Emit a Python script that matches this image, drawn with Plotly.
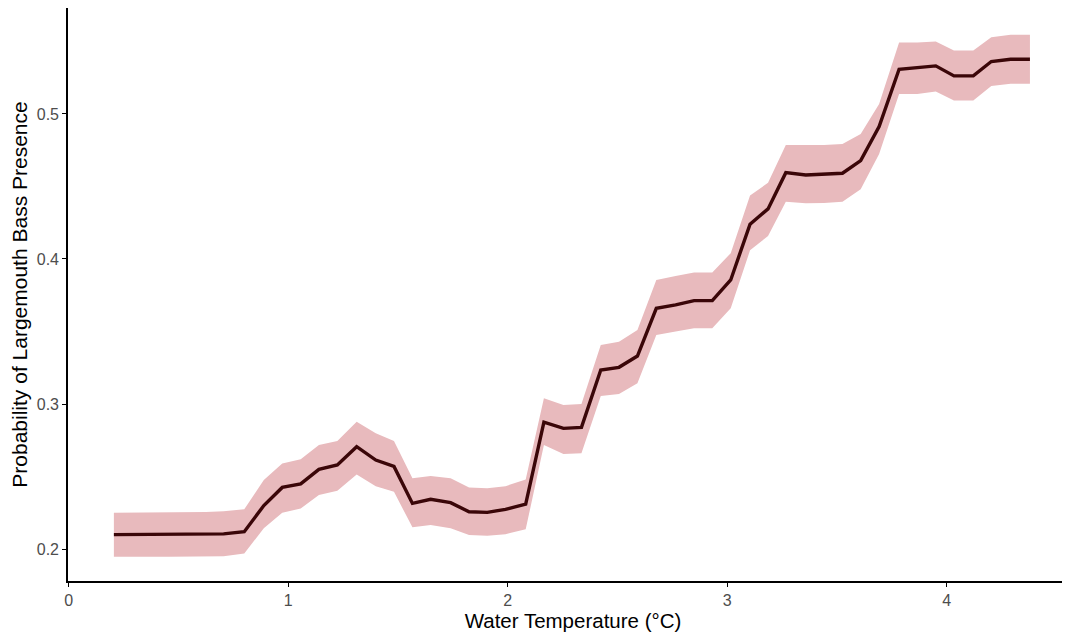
import plotly.graph_objects as go

temp = [0.206, 0.290, 0.374, 0.457, 0.541, 0.625, 0.706, 0.800, 0.889, 0.973,
        1.057, 1.140, 1.224, 1.312, 1.399, 1.482, 1.566, 1.649, 1.740, 1.824,
        1.907, 1.990, 2.082, 2.165, 2.254, 2.336, 2.424, 2.507, 2.591, 2.677,
        2.765, 2.849, 2.932, 3.016, 3.104, 3.186, 3.267, 3.358, 3.441, 3.525,
        3.608, 3.692, 3.783, 3.866, 3.950, 4.033, 4.121, 4.203, 4.291, 4.379]

prob = [0.210, 0.210, 0.210, 0.210, 0.210, 0.210, 0.2105, 0.212, 0.230, 0.2425,
        0.245, 0.255, 0.258, 0.2706, 0.2614, 0.257, 0.2315, 0.2343, 0.232, 0.2257,
        0.2253, 0.2274, 0.231, 0.2875, 0.2832, 0.2839, 0.3234, 0.3253, 0.3331, 0.366,
        0.3683, 0.3713, 0.3713, 0.3855, 0.4240, 0.4345, 0.4595, 0.4579, 0.4586, 0.4591,
        0.4678, 0.4912, 0.5308, 0.5322, 0.5331, 0.5262, 0.5262, 0.5361, 0.5377, 0.5377]

upper = [0.225, 0.225, 0.225, 0.225, 0.225, 0.2255, 0.226, 0.2274, 0.2476, 0.259,
         0.2619, 0.2717, 0.2745, 0.2878, 0.2798, 0.2745, 0.2488, 0.2503, 0.2488, 0.2425,
         0.2419, 0.2434, 0.248, 0.304, 0.2993, 0.300, 0.3407, 0.343, 0.351, 0.3855,
         0.3883, 0.3906, 0.3906, 0.404, 0.4438, 0.4525, 0.4786, 0.4786, 0.4786, 0.4793,
         0.4862, 0.5069, 0.5492, 0.5492, 0.5499, 0.5437, 0.5437, 0.5529, 0.5545, 0.5545]

lower = [0.1947, 0.1947, 0.1947, 0.1947, 0.1947, 0.1948, 0.1950, 0.197, 0.2143, 0.225,
         0.228, 0.2372, 0.2402, 0.2515, 0.2434, 0.2395, 0.215, 0.2166, 0.2143, 0.2097,
         0.2092, 0.2103, 0.2136, 0.2717, 0.2655, 0.266, 0.3055, 0.3069, 0.3143, 0.3476,
         0.350, 0.3522, 0.3522, 0.366, 0.406, 0.4158, 0.4395, 0.4384, 0.4386, 0.4395,
         0.448, 0.4724, 0.5138, 0.5138, 0.5154, 0.5092, 0.5092, 0.5193, 0.5207, 0.5207]

x_ticks = [0, 1, 2, 3, 4]
y_ticks = [0.2, 0.3, 0.4, 0.5]

fig = go.Figure()
fig.add_trace(go.Scatter(x=temp + temp[::-1], y=upper + lower[::-1], fill="toself",
                         fillcolor="rgb(232,186,189)", line=dict(width=0),
                         hoverinfo="skip", showlegend=False))
fig.add_trace(go.Scatter(x=temp, y=prob, mode="lines",
                         line=dict(color="#3a0608", width=3.4), showlegend=False))

fig.update_layout(
    width=1070, height=631,
    margin=dict(l=60, r=0, t=0, b=58),
    plot_bgcolor="white", paper_bgcolor="white",
    font=dict(family="Liberation Sans, Arial, sans-serif", color="black"),
    xaxis=dict(range=[-0.003, 4.598], tickvals=x_ticks, ticktext=[str(v) for v in x_ticks],
               automargin=False,
               showgrid=False, zeroline=False, showline=True, linecolor="black", linewidth=1.6,
               ticks="outside", ticklen=4, tickcolor="black", tickwidth=1,
               tickfont=dict(size=16, color="#4d4d4d"),
               title=dict(text="Water Temperature (°C)", font=dict(size=20.5, color="black"), standoff=4)),
    yaxis=dict(range=[0.178, 0.573], tickvals=y_ticks, ticktext=[f"{v:.1f}" for v in y_ticks],
               automargin=False,
               showgrid=False, zeroline=False, showline=True, linecolor="black", linewidth=1.6,
               ticks="outside", ticklen=4, tickcolor="black", tickwidth=1,
               tickfont=dict(size=16, color="#4d4d4d"),
               title=dict(text="Probability of Largemouth Bass Presence", font=dict(size=21, color="black"), standoff=6)),
)

fig.write_html("out.html")
